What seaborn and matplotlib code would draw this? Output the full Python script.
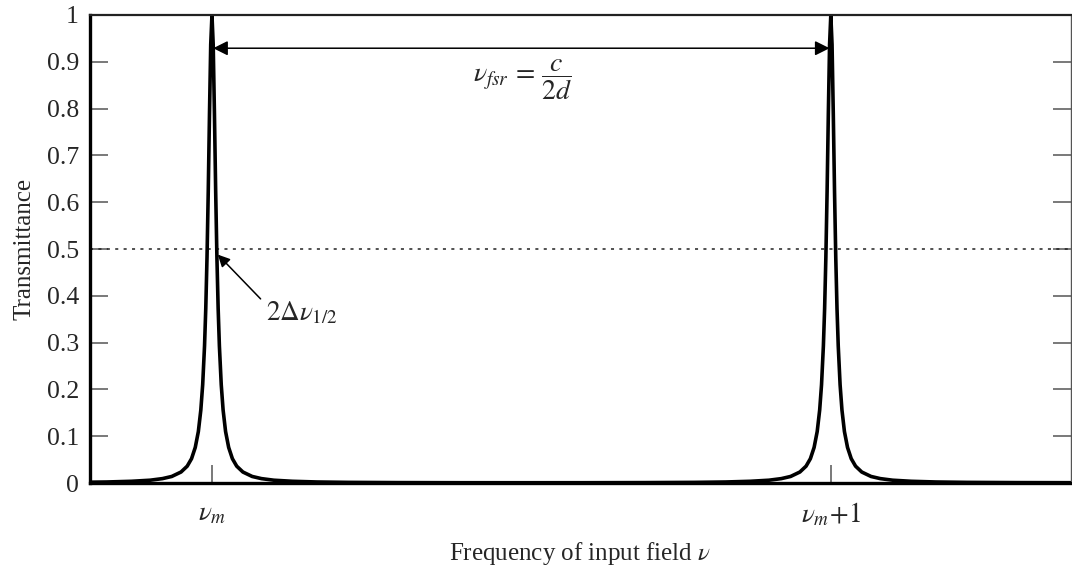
import numpy as np
import pandas as pd
import matplotlib
matplotlib.use("Agg")
import matplotlib.pyplot as plt
import seaborn as sns

# Resonance orders (in units of the free spectral range)
orders = [0.0, 1.0]
order_labels = [r"$\nu_m$", r"$\nu_m\!+\!1$"]

# Transmittance profile of one resonance vs. detuning from its centre (FSR units)
detuning = [0.0, 0.002, 0.004, 0.006, 0.008, 0.010, 0.012, 0.015, 0.018, 0.022,
            0.027, 0.033, 0.040, 0.050, 0.065, 0.080, 0.100, 0.130, 0.170, 0.220,
            0.300, 0.400, 0.500]
transmittance = [1.000, 0.937, 0.789, 0.623, 0.482, 0.373, 0.293, 0.210, 0.156, 0.110,
                 0.076, 0.052, 0.036, 0.0235, 0.014, 0.0094, 0.006, 0.0037, 0.0022, 0.0014,
                 0.0009, 0.00065, 0.0006]

y_ticks = [0, 0.1, 0.2, 0.3, 0.4, 0.5, 0.6, 0.7, 0.8, 0.9, 1]
y_tick_labels = ["0", "0.1", "0.2", "0.3", "0.4", "0.5", "0.6", "0.7", "0.8", "0.9", "1"]

half_max = 0.5

# Build the comb of resonances from the single-order profile
rows = []
for m in orders:
    for d, t in zip(detuning[::-1], transmittance[::-1]):
        rows.append((m - d, t))
    for d, t in zip(detuning[1:], transmittance[1:]):
        rows.append((m + d, t))
df = pd.DataFrame(rows, columns=["freq", "T"])

sns.set_theme(style="white")
plt.rcParams["font.family"] = ["Liberation Serif", "DejaVu Serif"]
plt.rcParams["mathtext.fontset"] = "stix"

fig = plt.figure(figsize=(10.72, 5.70), dpi=100)
ax = fig.add_axes([0.084, 0.1526, 0.915, 0.8211])

sns.lineplot(data=df, x="freq", y="T", ax=ax, color="black", linewidth=2.6,
             estimator=None, sort=False, solid_joinstyle="round")

ax.axhline(half_max, color="#222222", linestyle=(0, (2, 3.5)), linewidth=1.1, zorder=1)

ax.set_xlim(-0.197, 1.388)
ax.set_ylim(0, 1)

ax.set_yticks(y_ticks)
ax.set_yticklabels(y_tick_labels)
ax.set_xticks(orders)
ax.set_xticklabels(order_labels)

ax.tick_params(axis="y", direction="in", length=13, width=1.1, color="#555555",
               left=True, right=True, labelsize=18.5, pad=8)
ax.tick_params(axis="x", direction="in", length=13, width=1.1, color="#555555",
               bottom=True, top=False, labelsize=19.5, pad=13)

for side, lw, col in [("left", 2.4, "black"), ("bottom", 2.4, "black"),
                      ("top", 1.6, "#222222"), ("right", 1.0, "#555555")]:
    ax.spines[side].set_visible(True)
    ax.spines[side].set_linewidth(lw)
    ax.spines[side].set_color(col)

ax.set_xlabel(r"Frequency of input field $\nu$", fontsize=18, labelpad=8)
ax.set_ylabel("Transmittance", fontsize=18, labelpad=8)

# Free spectral range marker between adjacent orders
ax.annotate("", xy=(orders[0] + 0.002, 0.929), xytext=(orders[1] - 0.002, 0.929),
            arrowprops=dict(arrowstyle="<|-|>", color="black", lw=1.1,
                            mutation_scale=22, shrinkA=0, shrinkB=0))
ax.text(0.502, 0.862, r"$\nu_{fsr}\,=\,\dfrac{c}{2d}$", fontsize=20,
        ha="center", va="center")

# Linewidth marker at half maximum
ax.annotate(r"$2\Delta\nu_{1/2}$", xy=(orders[0] + 0.0095, 0.488),
            xytext=(0.087, 0.362), fontsize=19.5, ha="left", va="center",
            arrowprops=dict(arrowstyle="-|>", color="black", lw=1.1,
                            mutation_scale=18, shrinkA=2, shrinkB=0,
                            relpos=(0.0, 0.85)))

fig.savefig("out.png", dpi=100, facecolor="white")
